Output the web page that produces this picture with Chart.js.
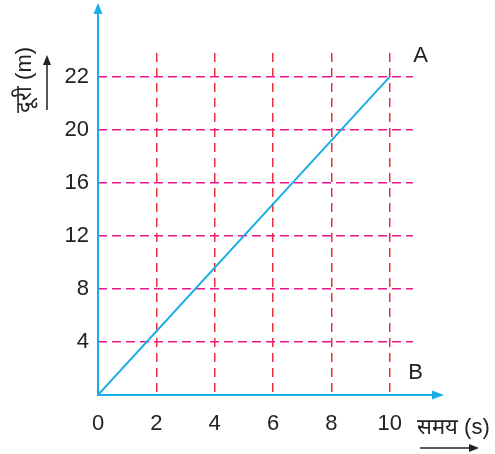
<!DOCTYPE html>
<html><head><meta charset="utf-8">
<script src="https://cdn.jsdelivr.net/npm/chart.js@4/dist/chart.umd.min.js"></script>
<style>html,body{margin:0;padding:0;background:#fff}#wrap{width:495px;height:454px;position:relative}</style>
</head><body><div id="wrap"><canvas id="c" width="495" height="454"></canvas></div>
<script>
// Data
const timeValues = [0, 10];          // समय (s)
const distanceValues = [0, 22];      // दूरी (m)
const xTickValues = [0, 2, 4, 6, 8, 10];
const yTickLabels = [4, 8, 12, 16, 20, 22];
const pointLabels = ['A', 'B'];
const xTitle = 'समय (s)';
const yTitle = 'दूरी (m)';

// The printed y-axis spaces its labels evenly: map a value to grid position
const yStops = [0].concat(yTickLabels);
function yPos(v) {
  for (let i = 1; i < yStops.length; i++) {
    if (v <= yStops[i]) return (i - 1) + (v - yStops[i - 1]) / (yStops[i] - yStops[i - 1]);
  }
  return yStops.length - 1;
}
const points = timeValues.map((t, i) => ({x: t, y: yPos(distanceValues[i])}));

const AXIS = '#1aaee6';
const FONT = '"Liberation Sans", Arial, sans-serif';

const decor = {
  id: 'decor',
  afterDatasetsDraw(chart) {
    const ctx = chart.ctx, xs = chart.scales.x, ys = chart.scales.y;
    const x0 = xs.getPixelForValue(0), y0 = ys.getPixelForValue(0);
    ctx.save();
    // axes with arrows
    ctx.strokeStyle = AXIS; ctx.fillStyle = AXIS; ctx.lineWidth = 2;
    ctx.beginPath(); ctx.moveTo(x0, y0 + 1); ctx.lineTo(x0, 12); ctx.stroke();
    ctx.beginPath(); ctx.moveTo(x0, 3); ctx.lineTo(x0 - 4.5, 14); ctx.lineTo(x0 + 4.5, 14); ctx.closePath(); ctx.fill();
    ctx.beginPath(); ctx.moveTo(x0 - 1, y0); ctx.lineTo(434, y0); ctx.stroke();
    ctx.beginPath(); ctx.moveTo(444, y0); ctx.lineTo(432, y0 - 4.5); ctx.lineTo(432, y0 + 4.5); ctx.closePath(); ctx.fill();
    // point labels
    ctx.fillStyle = '#222'; ctx.font = '22px ' + FONT; ctx.textAlign = 'center'; ctx.textBaseline = 'middle';
    const last = points[points.length - 1];
    ctx.fillText(pointLabels[0], xs.getPixelForValue(last.x) + 31, ys.getPixelForValue(last.y) - 21);
    ctx.fillText(pointLabels[1], xs.getPixelForValue(last.x) + 26, y0 - 22);
    // x title + arrow
    ctx.textAlign = 'left';
    ctx.fillText(xTitle, 417, 428);
    ctx.strokeStyle = '#222'; ctx.fillStyle = '#222'; ctx.lineWidth = 1.5;
    ctx.beginPath(); ctx.moveTo(420, 448); ctx.lineTo(472, 448); ctx.stroke();
    ctx.beginPath(); ctx.moveTo(479, 448); ctx.lineTo(469, 444); ctx.lineTo(469, 452); ctx.closePath(); ctx.fill();
    // y title + arrow
    ctx.save();
    ctx.translate(25, 80); ctx.rotate(-Math.PI / 2);
    ctx.textAlign = 'center';
    ctx.fillText(yTitle, 0, 0);
    ctx.restore();
    ctx.beginPath(); ctx.moveTo(47, 110); ctx.lineTo(47, 63); ctx.stroke();
    ctx.beginPath(); ctx.moveTo(47, 55); ctx.lineTo(43, 65); ctx.lineTo(51, 65); ctx.closePath(); ctx.fill();
    ctx.restore();
  }
};

new Chart(document.getElementById('c'), {
  type: 'scatter',
  data: { datasets: [{ data: points, showLine: true, borderColor: AXIS, borderWidth: 2, pointRadius: 0, tension: 0 }] },
  options: {
    responsive: false, animation: false,
    layout: { padding: { left: 0, top: 53, right: 82, bottom: 0 } },
    plugins: { legend: { display: false }, tooltip: { enabled: false } },
    scales: {
      x: {
        type: 'linear', min: 0, max: 10.8,
        afterBuildTicks(s) { s.ticks = xTickValues.map(v => ({value: v})); },
        afterFit(s) { s.height = 59; },
        border: { display: false, dash: [9, 6] },
        grid: {
          drawTicks: false, lineWidth: 1.5,
          color: c => c.tick && c.tick.value === 0 ? 'rgba(0,0,0,0)' : '#e8303c'
        },
        ticks: { padding: 16, color: '#222', font: { size: 22, family: FONT }, maxRotation: 0 }
      },
      y: {
        type: 'linear', min: 0, max: 6.45,
        afterBuildTicks(s) { s.ticks = yTickLabels.map((v, i) => ({value: i + 1})); },
        afterFit(s) { s.width = 98; },
        border: { display: false, dash: [9, 5] },
        grid: {
          drawTicks: false, lineWidth: 1.5,
          color: '#e8178c'
        },
        ticks: {
          padding: 9, color: '#222', font: { size: 22, family: FONT },
          callback: (v) => String(yTickLabels[Math.round(v) - 1])
        }
      }
    }
  },
  plugins: [decor]
});
</script></body></html>
